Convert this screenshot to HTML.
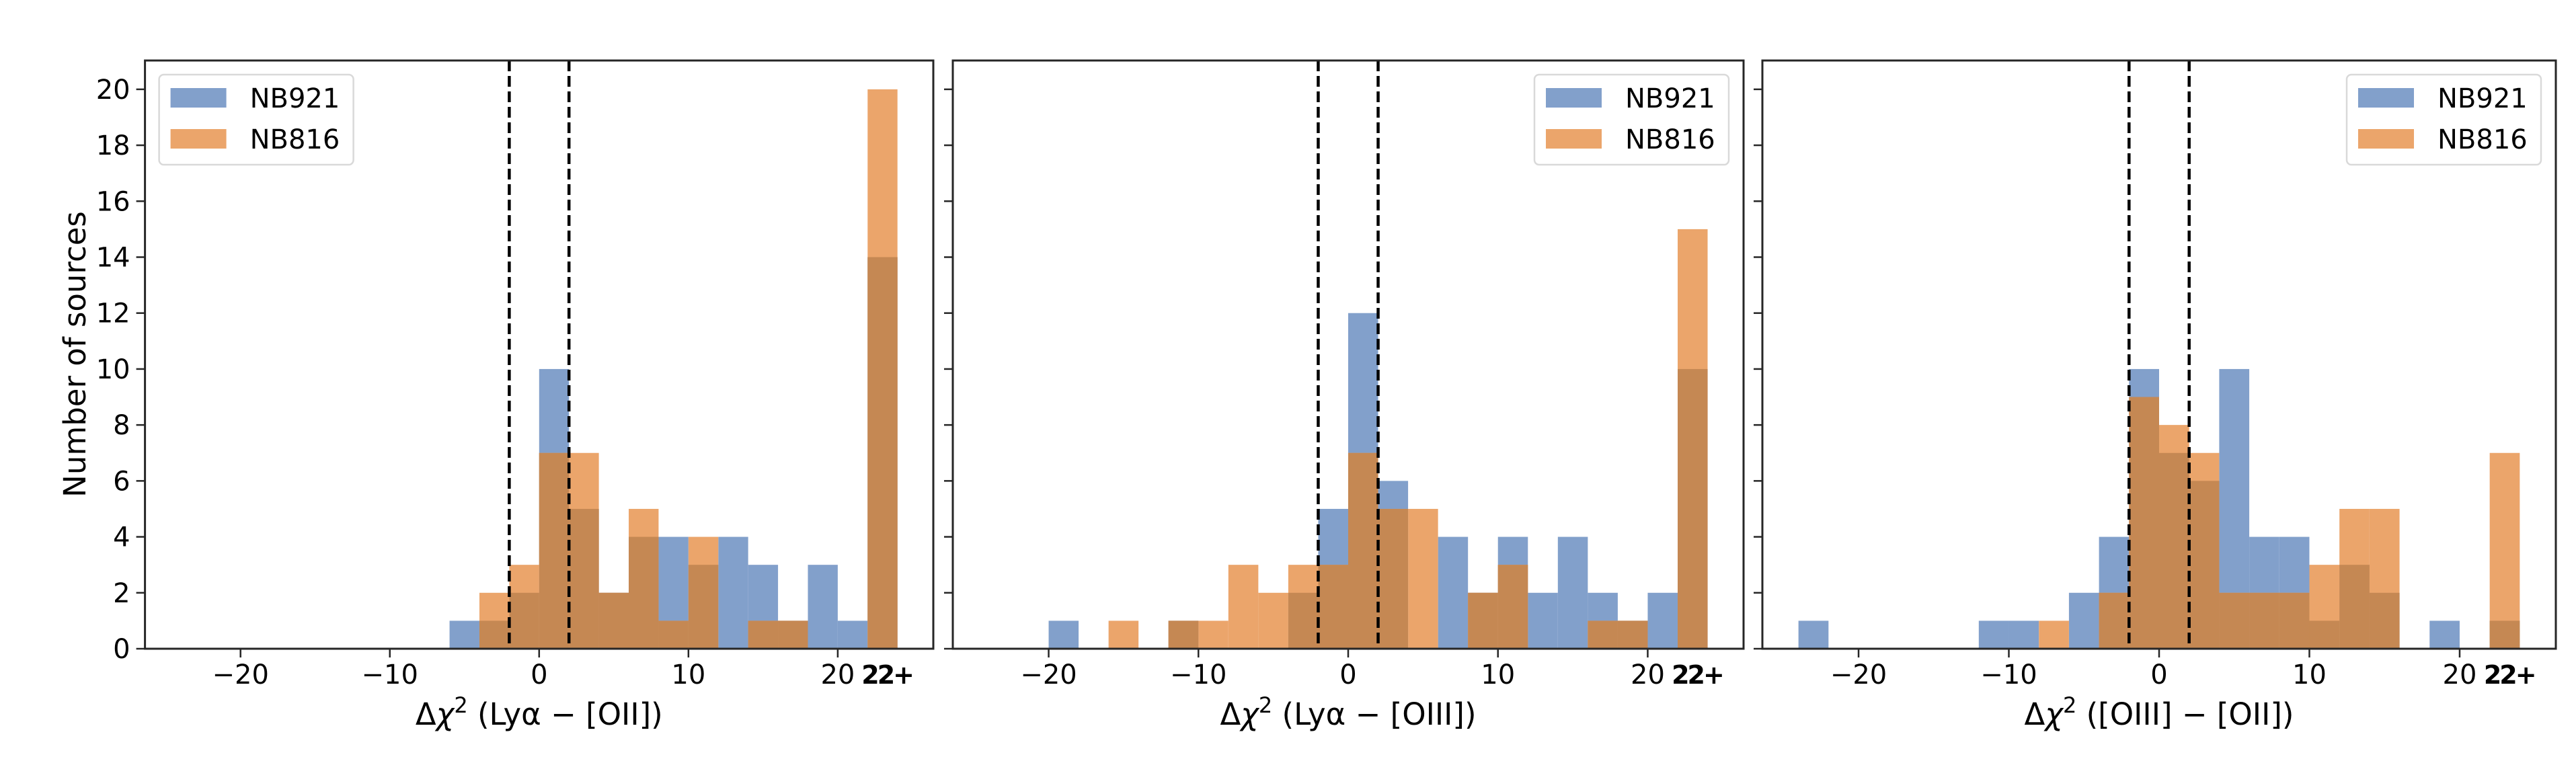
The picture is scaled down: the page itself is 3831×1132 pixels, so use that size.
<!DOCTYPE html>
<html><head><meta charset="utf-8"><style>
html,body{margin:0;padding:0;background:#fff}
svg{display:block}
text{font-family:"DejaVu Sans","Liberation Sans",sans-serif;fill:#000}
</style></head>
<body>
<svg id="chart" xmlns="http://www.w3.org/2000/svg" width="3831" height="1132" viewBox="0 0 3831 1132"></svg>
<script>
// Data: bins of width 2 from -24 to 24 (last bin = "22+")
const binEdgeStart = -24;
const binWidth = 2;
const p1Blue   = [0,0,0,0,0,0,0,0,0,1,1,2,10,5,2,4,4,3,4,3,1,3,1,14];
const p1Orange = [0,0,0,0,0,0,0,0,0,0,2,3,7,7,2,5,1,4,0,1,1,0,0,20];
const p2Blue   = [0,0,1,0,0,0,1,0,0,0,2,5,12,6,0,4,2,4,2,4,2,1,2,10];
const p2Orange = [0,0,0,0,1,0,1,1,3,2,3,3,7,5,5,0,2,3,0,0,1,1,0,15];
const p3Blue   = [1,0,0,0,0,0,1,1,0,2,4,10,7,6,10,4,4,1,3,2,0,1,0,1];
const p3Orange = [0,0,0,0,0,0,0,0,1,0,2,9,8,7,2,2,2,3,5,5,0,0,0,7];
const xTickValues = [-20,-10,0,10,20,23.3];
const xTickLabels = ["\u221220","\u221210","0","10","20","22+"];
const yTickValues = [0,2,4,6,8,10,12,14,16,18,20];
const xLabelTails = [" (Ly\u03b1 \u2212 [OII])"," (Ly\u03b1 \u2212 [OIII])"," ([OIII] \u2212 [OII])"];
const dashedLines = [-2,2];
const seriesNames = ["NB921","NB816"];

const NS="http://www.w3.org/2000/svg";
const svg=document.getElementById('chart');
function mk(tag,attrs,parent){const e=document.createElementNS(NS,tag);for(const k in attrs)e.setAttribute(k,attrs[k]);(parent||svg).appendChild(e);return e;}

const panels=[
 {left:215.6,right:1388,blue:p1Blue,orange:p1Orange,legend:'left',ylabels:true},
 {left:1417,right:2593,blue:p2Blue,orange:p2Orange,legend:'right',ylabels:false},
 {left:2621,right:3801,blue:p3Blue,orange:p3Orange,legend:'right',ylabels:false}
];
const axTop=90,axBottom=965,xmin=-26.4,xmax=26.4,ymax=21.03;
const BLUE='#82a0cb',ORANGE='#eba56b',BROWN='#c58853';

panels.forEach((p,pi)=>{
  const g=mk('g',{});
  
  
  const X=v=>p.left+(v-xmin)/(xmax-xmin)*(p.right-p.left);
  const Y=v=>axBottom-v/ymax*(axBottom-axTop);
  const drawBars=(vals,color,name)=>{
    vals.forEach((v,i)=>{
      if(v<=0)return;
      const x0=X(binEdgeStart+i*binWidth),x1=X(binEdgeStart+(i+1)*binWidth);
      const r=mk('rect',{x:x0,y:Y(v),width:x1-x0,height:Y(0)-Y(v),fill:color},g);
      
      
    });
  };
  drawBars(p.blue,BLUE,'nb921');
  drawBars(p.orange,ORANGE,'nb816');
  drawBars(p.blue.map((b,i)=>Math.min(b,p.orange[i])),BROWN,'overlap');
  dashedLines.forEach((d,k)=>{
    const l=mk('line',{x1:X(d),x2:X(d),y1:axTop,y2:axBottom,stroke:'#000','stroke-width':4.5,'stroke-dasharray':'16 7'},g);
    
    
  });
  const frame=mk('rect',{x:p.left,y:axTop,width:p.right-p.left,height:axBottom-axTop,fill:'none',stroke:'#262626','stroke-width':3},g);
  
  
  xTickValues.forEach((v,i)=>{
    if(i<5) mk('line',{x1:X(v),x2:X(v),y1:axBottom,y2:axBottom+13,stroke:'#262626','stroke-width':2.5},g);
    const last=i===5;
    const t=mk('text',{x:X(v),y:axBottom+52,'font-size':40,'text-anchor':'middle'},g);
    if(last){t.setAttribute('font-weight','bold');t.setAttribute('letter-spacing','-3');t.setAttribute('font-size','38');}
    t.textContent=xTickLabels[i];
    
    
  });
  yTickValues.forEach(v=>{
    mk('line',{x1:p.left-13,x2:p.left,y1:Y(v),y2:Y(v),stroke:'#262626','stroke-width':2.5},g);
    if(p.ylabels){
      const t=mk('text',{x:p.left-22,y:Y(v)+14,'font-size':40,'text-anchor':'end'},g);
      t.textContent=v;
      
      
    }
  });
  const xl=mk('text',{x:(p.left+p.right)/2,y:1078,'font-size':45,'text-anchor':'middle'},g);
  const a=mk('tspan',{},xl); a.textContent='\u0394';
  const b=mk('tspan',{'font-style':'italic'},xl); b.textContent='\u03c7';
  const c=mk('tspan',{'font-size':32,dy:-18},xl); c.textContent='2';
  const d=mk('tspan',{dy:18},xl); d.textContent=xLabelTails[pi];
  
  
  // legend
  const lw=289,lh=134;
  const lx=p.legend==='left'?p.left+21:p.right-22-lw, ly=111;
  const lg=mk('g',{},g);
  
  
  mk('rect',{x:lx,y:ly,width:lw,height:lh,rx:7,fill:'#fff','fill-opacity':0.85,stroke:'#d9d9d9','stroke-width':2.5},lg);
  [BLUE,ORANGE].forEach((c,k)=>{
    const sw=mk('rect',{x:lx+17,y:ly+20+k*61,width:83,height:29,fill:c},lg);
    
    
    const t=mk('text',{x:lx+135,y:ly+49+k*61,'font-size':40},lg);
    t.textContent=seriesNames[k];
    
    
  });
});
const yl=mk('text',{x:0,y:0,'font-size':45,'text-anchor':'middle',transform:'translate(127,527) rotate(-90)'});
yl.textContent='Number of sources';


</script>
</body></html>
